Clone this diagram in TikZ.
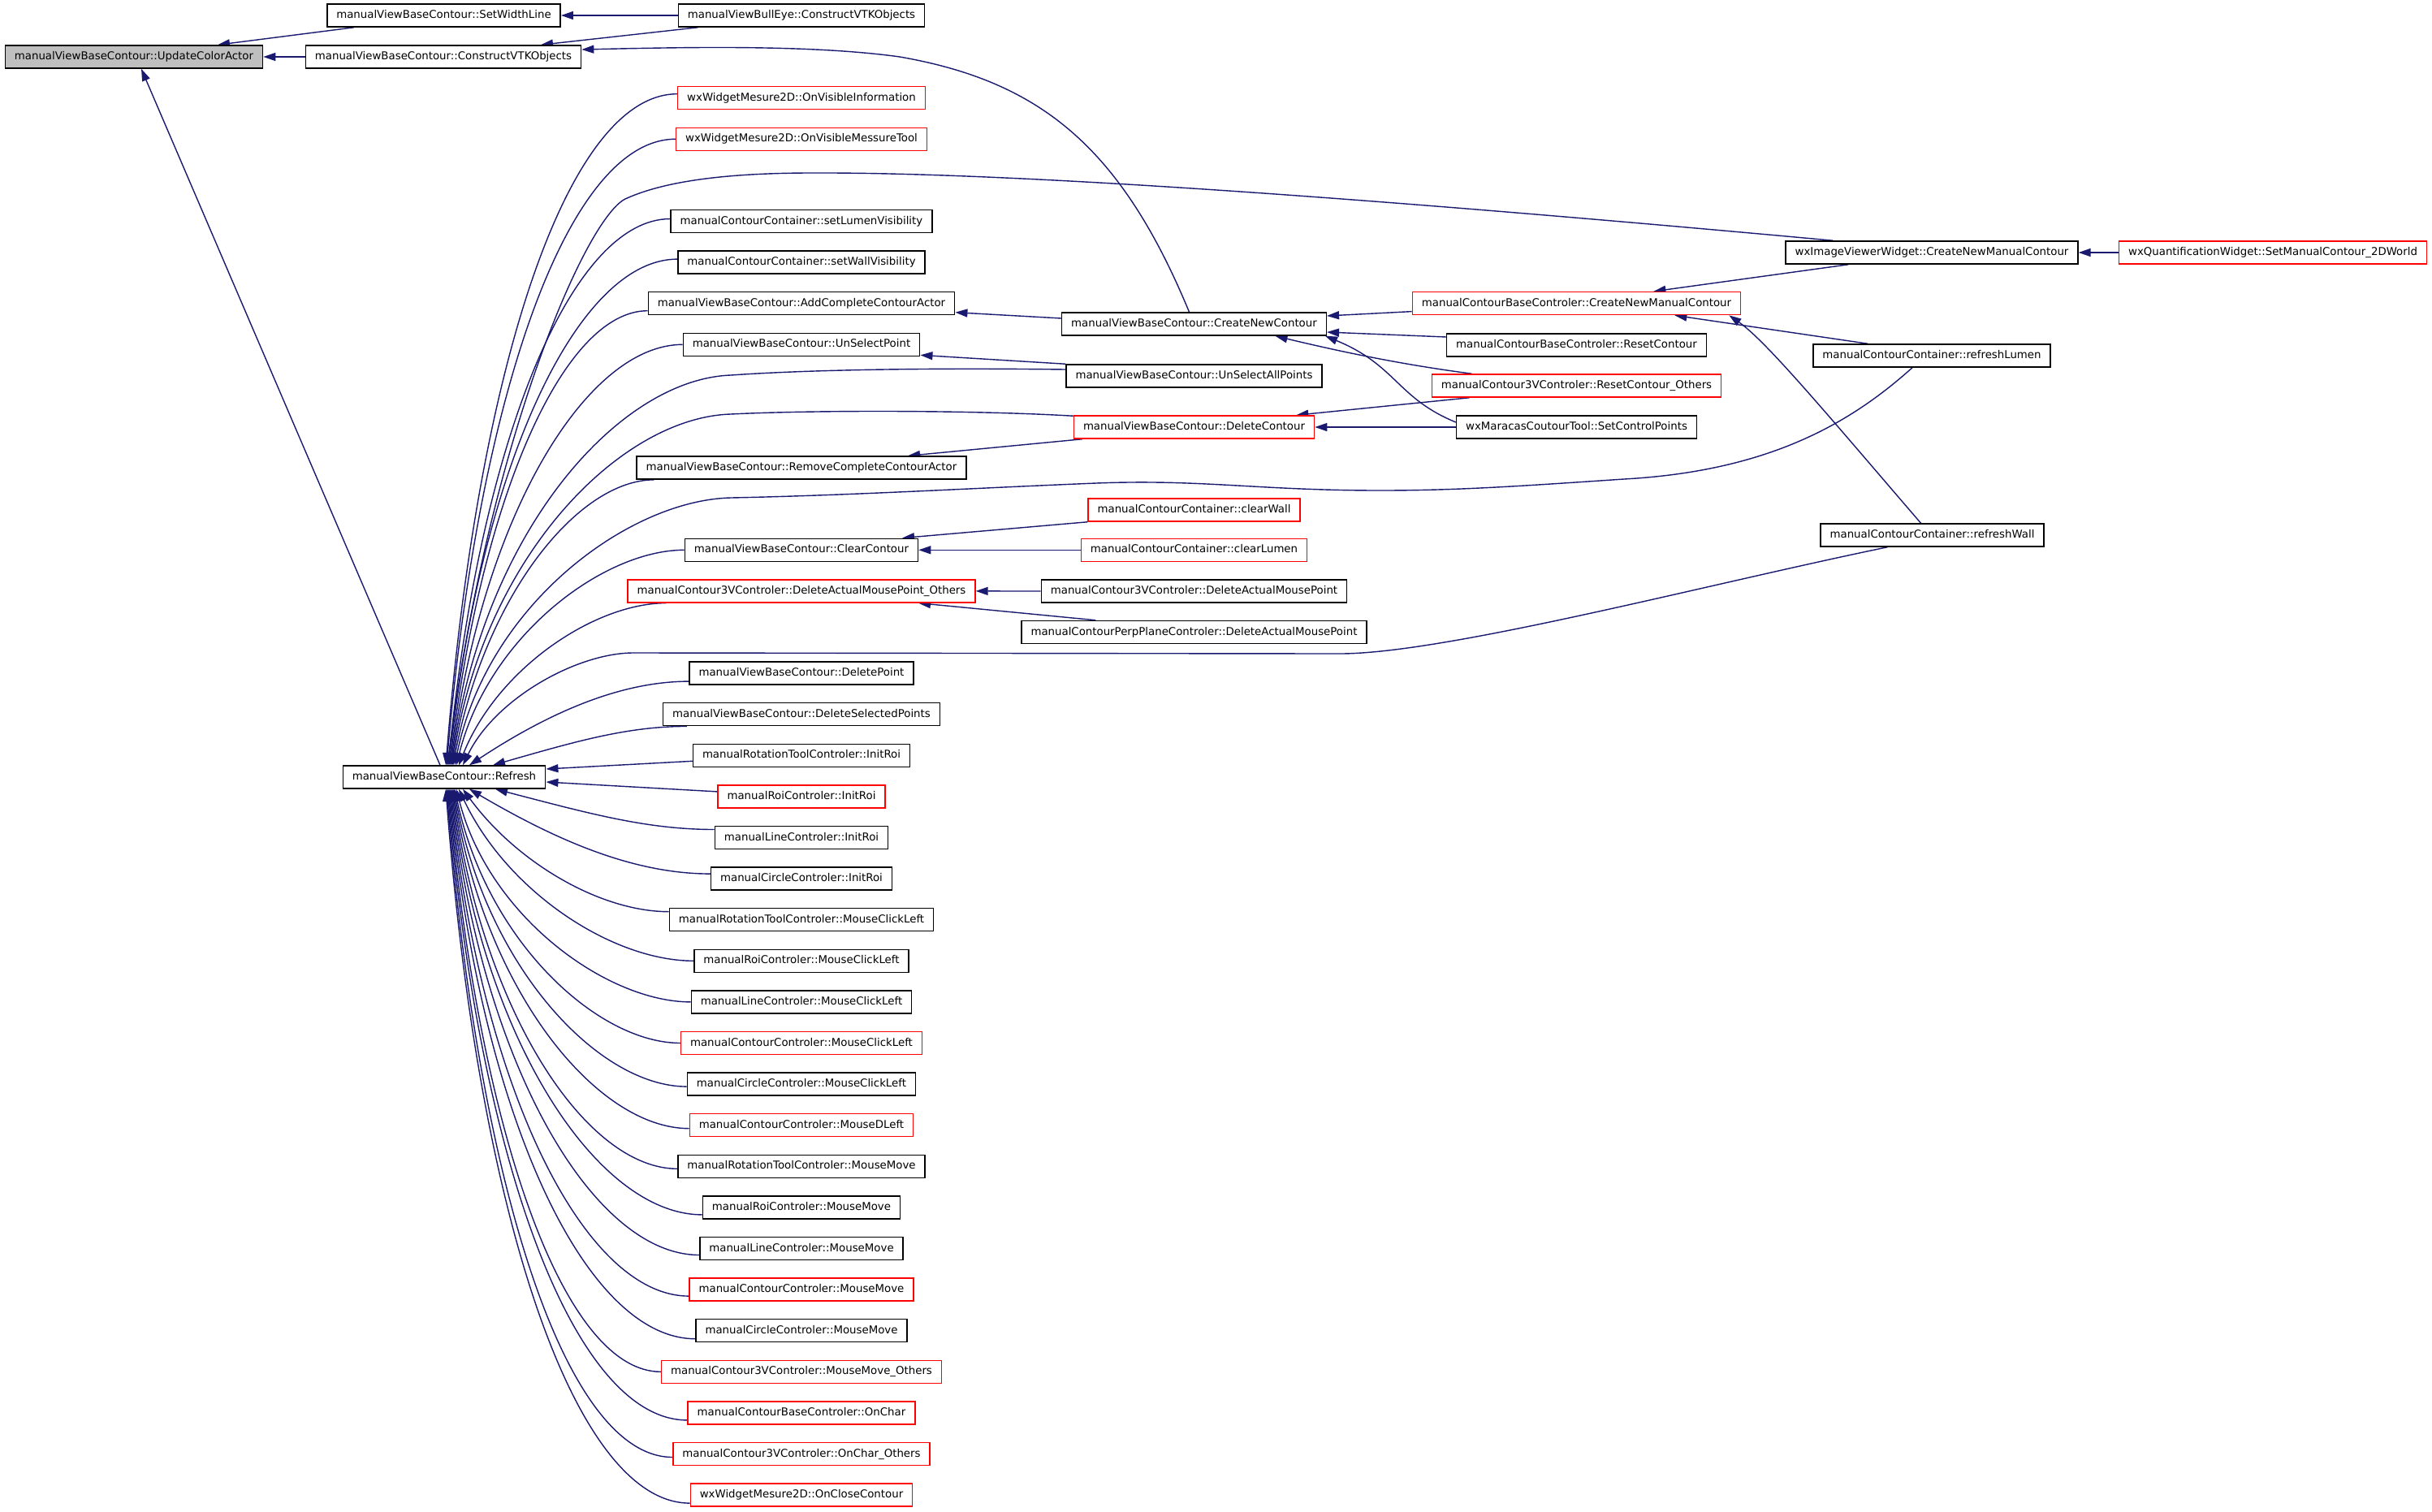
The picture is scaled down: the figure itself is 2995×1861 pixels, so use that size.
\documentclass[tikz,border=0pt]{standalone}
\usepackage{fontspec}
\setmainfont{DejaVu Sans}
\usetikzlibrary{arrows.meta,calc}
\definecolor{edgecol}{HTML}{191970}
\definecolor{graynode}{HTML}{BFBFBF}
\definecolor{redbox}{HTML}{FF0000}
\pgfdeclarelayer{bg}
\pgfsetlayers{bg,main}
\tikzset{
  nbox/.style={draw=black, line width=1.5pt, fill=white, inner xsep=11.5pt, inner ysep=0pt,
    minimum height=28pt, text height=10pt, text depth=3pt, font=\fontsize{13.33}{16}\selectfont},
  rbox/.style={nbox, draw=redbox},
  gbox/.style={nbox, fill=graynode},
  calledge/.style={draw=edgecol, line width=1.4pt, -{Triangle[length=15pt,width=10pt]}},
}
\newcommand\callcurve[2]{%
  \draw[calledge] let \p1=#1, \p2=#2, \n1={abs(\y1-\y2)}, \n2={0.3+0.17*min(1,\n1/800)},
    \n3={max(40,0.5*(\x1-\x2)-0.4*\n1)} in
    (\p1) .. controls ({\x1-\n2*(\x1-\x2)},\y1) and ({\x2+\n3},{\y1+0.4*(\y2-\y1)}) .. (\p2);}
\begin{document}
\begin{tikzpicture}[x=1pt,y=-1pt]
\useasboundingbox (0,0) rectangle (2995,1861);
% column 0/1
\node[gbox] (UCA) at (165,70) {manualViewBaseContour::UpdateColorActor};
\node[nbox] (SWL) at (546.5,19) {manualViewBaseContour::SetWidthLine};
\node[nbox] (CVO) at (546,70) {manualViewBaseContour::ConstructVTKObjects};
\node[nbox] (R) at (547,957) {manualViewBaseContour::Refresh};
% column 2
\node[nbox] (BE) at (987,19) {manualViewBullEye::ConstructVTKObjects};
\node[rbox] (n2) at (987,120.7) {wxWidgetMesure2D::OnVisibleInformation};
\node[rbox] (n3) at (987,171.3) {wxWidgetMesure2D::OnVisibleMessureTool};
\node[nbox] (n5) at (987,272.5) {manualContourContainer::setLumenVisibility};
\node[nbox] (n6) at (987,323.1) {manualContourContainer::setWallVisibility};
\node[nbox] (n7) at (987,373.7) {manualViewBaseContour::AddCompleteContourActor};
\node[nbox] (n8) at (987,424.3) {manualViewBaseContour::UnSelectPoint};
\node[nbox] (n11) at (987,576.1) {manualViewBaseContour::RemoveCompleteContourActor};
\node[nbox] (n13) at (987,677.3) {manualViewBaseContour::ClearContour};
\node[rbox] (n14) at (987,727.9) {manualContour3VControler::DeleteActualMousePoint\_Others};
\node[nbox] (n16) at (987,829.1) {manualViewBaseContour::DeletePoint};
\node[nbox] (n17) at (987,879.7) {manualViewBaseContour::DeleteSelectedPoints};
\node[nbox] (n18) at (987,930.3) {manualRotationToolControler::InitRoi};
\node[rbox] (n19) at (987,980.9) {manualRoiControler::InitRoi};
\node[nbox] (n20) at (987,1031.5) {manualLineControler::InitRoi};
\node[nbox] (n21) at (987,1082.1) {manualCircleControler::InitRoi};
\node[nbox] (n22) at (987,1132.7) {manualRotationToolControler::MouseClickLeft};
\node[nbox] (n23) at (987,1183.3) {manualRoiControler::MouseClickLeft};
\node[nbox] (n24) at (987,1233.9) {manualLineControler::MouseClickLeft};
\node[rbox] (n25) at (987,1284.5) {manualContourControler::MouseClickLeft};
\node[nbox] (n26) at (987,1335.1) {manualCircleControler::MouseClickLeft};
\node[rbox] (n27) at (987,1385.7) {manualContourControler::MouseDLeft};
\node[nbox] (n28) at (987,1436.3) {manualRotationToolControler::MouseMove};
\node[nbox] (n29) at (987,1486.9) {manualRoiControler::MouseMove};
\node[nbox] (n30) at (987,1537.5) {manualLineControler::MouseMove};
\node[rbox] (n31) at (987,1588.1) {manualContourControler::MouseMove};
\node[nbox] (n32) at (987,1638.7) {manualCircleControler::MouseMove};
\node[rbox] (n33) at (987,1689.3) {manualContour3VControler::MouseMove\_Others};
\node[rbox] (n34) at (987,1739.9) {manualContourBaseControler::OnChar};
\node[rbox] (n35) at (987,1790.5) {manualContour3VControler::OnChar\_Others};
\node[rbox] (n36) at (987,1841.1) {wxWidgetMesure2D::OnCloseContour};
% column 3
\node[nbox] (CNC) at (1470.5,399) {manualViewBaseContour::CreateNewContour};
\node[nbox] (USAP) at (1470.5,463) {manualViewBaseContour::UnSelectAllPoints};
\node[rbox] (DC) at (1470.5,526) {manualViewBaseContour::DeleteContour};
\node[rbox] (CW) at (1470.5,628) {manualContourContainer::clearWall};
\node[rbox] (CL) at (1470.5,677.3) {manualContourContainer::clearLumen};
\node[nbox] (D3) at (1470.5,728) {manualContour3VControler::DeleteActualMousePoint};
\node[nbox] (DP) at (1470.5,778.5) {manualContourPerpPlaneControler::DeleteActualMousePoint};
% column 4
\node[rbox] (CNMC) at (1941.5,373.6) {manualContourBaseControler::CreateNewManualContour};
\node[nbox] (RC) at (1941.5,425) {manualContourBaseControler::ResetContour};
\node[rbox] (RCO) at (1941.5,475) {manualContour3VControler::ResetContour\_Others};
\node[nbox] (SCP) at (1941.5,526) {wxMaracasCoutourTool::SetControlPoints};
% column 5/6
\node[nbox] (IVW) at (2379,311) {wxImageViewerWidget::CreateNewManualContour};
\node[nbox] (RL) at (2379,438) {manualContourContainer::refreshLumen};
\node[nbox] (RW) at (2379.5,659) {manualContourContainer::refreshWall};
\node[rbox] (QW) at (2799,311) {wxQuantificationWidget::SetManualContour\_2DWorld};

\begin{pgfonlayer}{bg}
\fill[white] (0,0) rectangle (2995,1861);
% straight edges
\draw[calledge] ($(SWL.south west)+(34,0)$) -- ($(UCA.north)+(103,0)$);
\draw[calledge] (CVO.west) -- (UCA.east);
\draw[calledge] ($(R.north)+(-5,0)$) -- ($(UCA.south)+(9,0)$);
\draw[calledge] (BE.west) -- (SWL.east);
\draw[calledge] ($(BE.south west)+(25,0)$) -- ($(CVO.north)+(120,0)$);
\draw[calledge] ($(CNC.north)+(-6,0)$) .. controls (1380,180) and (1280,100) .. (1108,70) .. controls (1000,55) and (850,58) .. ($(CVO.east)+(0,-9)$);
\draw[calledge] ($(CNC.west)+(0,-7)$) -- ($(n7.east)+(0,11)$);
\draw[calledge] (USAP.north west) -- ($(n8.east)+(0,13)$);
\draw[calledge] ($(DC.south west)+(11,0)$) -- ($(n11.north)+(131,0)$);
\draw[calledge] (CW.south west) -- ($(n13.north)+(124,0)$);
\draw[calledge] (CL.west) -- (n13.east);
\draw[calledge] (D3.west) -- (n14.east);
\draw[calledge] ($(DP.north west)+(92,0)$) -- ($(n14.south)+(144,0)$);
\draw[calledge] ($(CNMC.west)+(0,10)$) -- ($(CNC.east)+(0,-10)$);
\draw[calledge] ($(RC.west)+(0,-10)$) -- ($(CNC.east)+(0,10)$);
\draw[calledge] ($(RCO.north west)+(50,0)$) .. controls (1750,452) and (1680,440) .. ($(CNC.south)+(100,0)$);
\draw[calledge] ($(SCP.west)+(0,-6)$) .. controls (1720,490) and (1720,450) .. ($(CNC.south east)+(-2,0)$);
\draw[calledge] ($(RCO.south west)+(47,0)$) -- ($(DC.north east)+(-23,0)$);
\draw[calledge] (SCP.west) -- (DC.east);
\draw[calledge] ($(IVW.south west)+(78,0)$) -- ($(CNMC.north east)+(-108,0)$);
\draw[calledge] ($(RL.north west)+(68,0)$) -- ($(CNMC.south east)+(-82,0)$);
\draw[calledge] ($(RW.north)+(-14,0)$) .. controls (2250,510) and (2175,420) .. ($(CNMC.south east)+(-15,0)$);
\draw[calledge] (QW.west) -- (IVW.east);
% long curves into Refresh
\draw[calledge] ($(IVW.north west)+(59,0)$) .. controls (1700,245) and (1250,212) .. (1000,213) .. controls (900,213) and (820,222) .. (770,245) .. controls (720,270) and (600,550) .. ($(R.north)+(4,0)$);
\draw[calledge] ($(USAP.west)+(0,-8)$) .. controls (1150,453) and (1000,455) .. (900,462) .. controls (762,467) and (596,654) .. ($(R.north)+(9,0)$);
\draw[calledge] ($(DC.north west)+(0,1)$) .. controls (1200,505) and (1000,505) .. (900,510) .. controls (765,514) and (597,683) .. ($(R.north)+(10,0)$);
\draw[calledge] ($(RL.south)+(-24,0)$) .. controls (2280,520) and (2180,580) .. (2000,590) .. controls (1880,598) and (1800,604) .. (1700,604) .. controls (1550,604) and (1480,590) .. (1350,595) .. controls (1200,601) and (1050,610) .. (900,613) .. controls (774,616) and (600,745) .. ($(R.north)+(13,0)$);
\draw[calledge] ($(RW.south west)+(83,0)$) .. controls (2100,720) and (1780,805) .. (1650,805) -- (780,804) .. controls (711,804) and (610,860) .. ($(R.north)+(23,0)$);
% column 2 into Refresh (top)
\callcurve{($(n2.west)+(0,-5)$)}{($(R.north)+(2,0)$)}
\callcurve{(n3.west)}{($(R.north)+(3,0)$)}
\callcurve{($(n5.west)+(0,-3)$)}{($(R.north)+(5,0)$)}
\callcurve{($(n6.west)+(0,-4)$)}{($(R.north)+(6,0)$)}
\callcurve{($(n7.west)+(0,9)$)}{($(R.north)+(7,0)$)}
\callcurve{(n8.west)}{($(R.north)+(8,0)$)}
\callcurve{($(n11.south west)+(22,0)$)}{($(R.north)+(11,0)$)}
\callcurve{(n13.west)}{($(R.north)+(15,0)$)}
\callcurve{($(n14.south west)+(48,0)$)}{($(R.north)+(18,0)$)}
\callcurve{($(n16.west)+(0,10)$)}{($(R.north)+(31,0)$)}
\callcurve{($(n17.south west)+(30,0)$)}{($(R.north)+(60,0)$)}
% right side
\draw[calledge] ($(n18.west)+(0,7)$) -- ($(R.east)+(0,-10)$);
\draw[calledge] ($(n19.west)+(0,-6)$) -- ($(R.east)+(0,6)$);
% bottom
\callcurve{($(n20.west)+(0,-10)$)}{($(R.south)+(63,0)$)}
\callcurve{($(n21.west)+(0,-6)$)}{($(R.south)+(31,0)$)}
\callcurve{($(n22.west)+(0,-10)$)}{($(R.south)+(23,0)$)}
\callcurve{(n23.west)}{($(R.south)+(18,0)$)}
\callcurve{(n24.west)}{($(R.south)+(15,0)$)}
\callcurve{(n25.west)}{($(R.south)+(13,0)$)}
\callcurve{($(n26.west)+(0,3)$)}{($(R.south)+(12,0)$)}
\callcurve{($(n27.west)+(0,4)$)}{($(R.south)+(11,0)$)}
\callcurve{($(n28.west)+(0,3)$)}{($(R.south)+(10,0)$)}
\callcurve{($(n29.west)+(0,9)$)}{($(R.south)+(9,0)$)}
\callcurve{($(n30.west)+(0,8)$)}{($(R.south)+(8,0)$)}
\callcurve{($(n31.west)+(0,8)$)}{($(R.south)+(7,0)$)}
\callcurve{($(n32.west)+(0,10)$)}{($(R.south)+(6,0)$)}
\callcurve{(n33.west)}{($(R.south)+(5,0)$)}
\callcurve{($(n34.west)+(0,9)$)}{($(R.south)+(4,0)$)}
\callcurve{($(n35.west)+(0,4)$)}{($(R.south)+(3,0)$)}
\callcurve{($(n36.west)+(0,10)$)}{($(R.south)+(2,0)$)}
\end{pgfonlayer}
\end{tikzpicture}
\end{document}
